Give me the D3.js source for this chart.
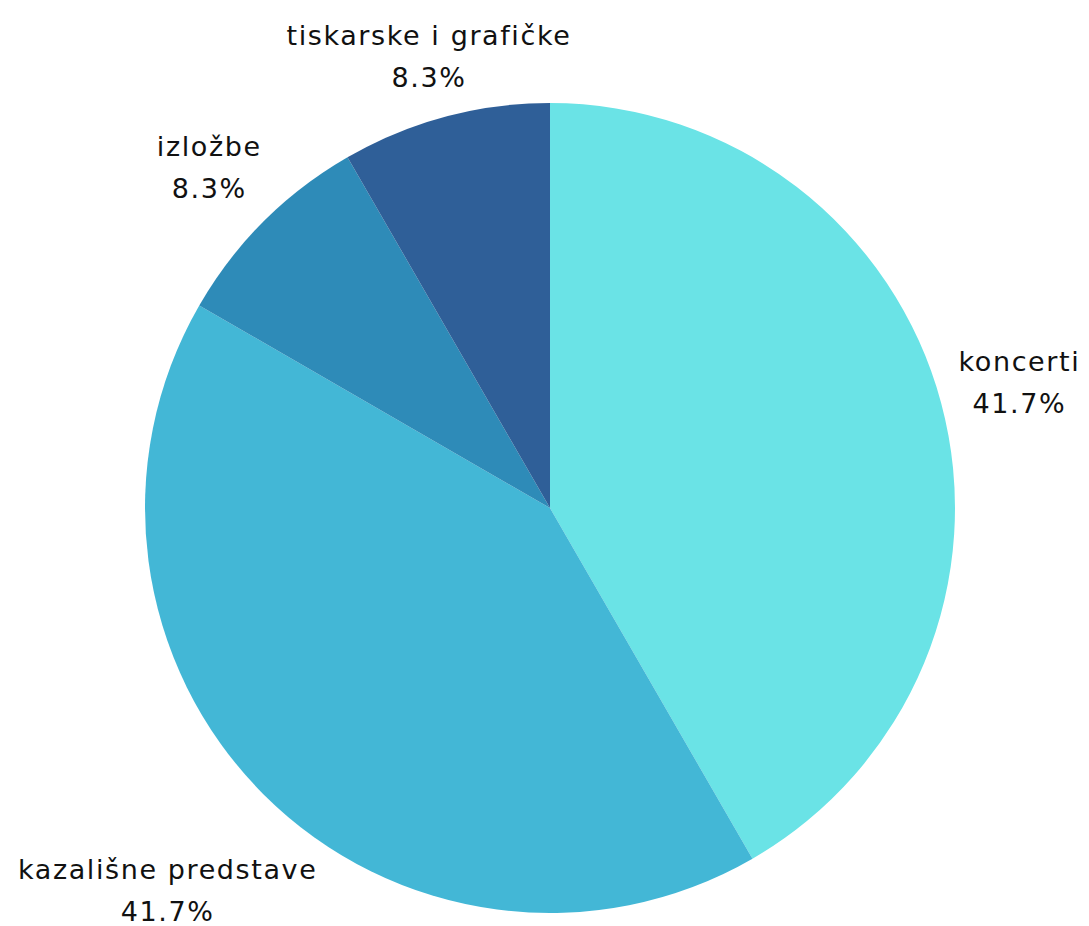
<!DOCTYPE html>
<html>
<head>
<meta charset="utf-8">
<script src="https://cdnjs.cloudflare.com/ajax/libs/d3/7.8.5/d3.min.js"></script>
<style>
	body { margin: 0; background: #fff; }
	text { font-family: "DejaVu Sans", sans-serif; font-size: 27px; letter-spacing: 1.6px; fill: #111; }
</style>
</head>
<body>
<div id="chart"></div>
<script>
// data
var categories = ["koncerti", "kazališne predstave", "izložbe", "tiskarske i grafičke"];
var values = [5, 5, 1, 1];
var colors = ["#6ae3e6", "#43b7d6", "#2e8bb8", "#2f5f98"];
// label distance from centre (as factor of radius)
var labelDist = [1.20, 1.335, 1.19, 1.155];

var width = 1089, height = 926;
var cx = 550, cy = 508, radius = 405;

var svg = d3.select("#chart")
	.append("svg")
	.attr("width", width)
	.attr("height", height);

var g = svg.append("g")
	.attr("transform", "translate(" + cx + "," + cy + ")");

var total = d3.sum(values);
var pie = d3.pie().sort(null).value(function(d){ return d; });
var arcs = pie(values);

var arc = d3.arc().innerRadius(0).outerRadius(radius);

g.selectAll("path")
	.data(arcs)
	.enter().append("path")
	.attr("d", arc)
	.attr("fill", function(d, i){ return colors[i]; });

// labels
var lab = g.selectAll("text.lab")
	.data(arcs)
	.enter().append("text")
	.attr("class", "lab")
	.attr("text-anchor", "middle")
	.attr("transform", function(d, i){
		var a = (d.startAngle + d.endAngle) / 2;
		var r = radius * labelDist[i];
		return "translate(" + (Math.sin(a) * r) + "," + (-Math.cos(a) * r) + ")";
	});

lab.append("tspan")
	.attr("x", 0)
	.attr("y", -11)
	.text(function(d, i){ return categories[i]; });

lab.append("tspan")
	.attr("x", 0)
	.attr("y", 31)
	.text(function(d){ return d3.format(".1%")(d.value / total); });
</script>
</body>
</html>
